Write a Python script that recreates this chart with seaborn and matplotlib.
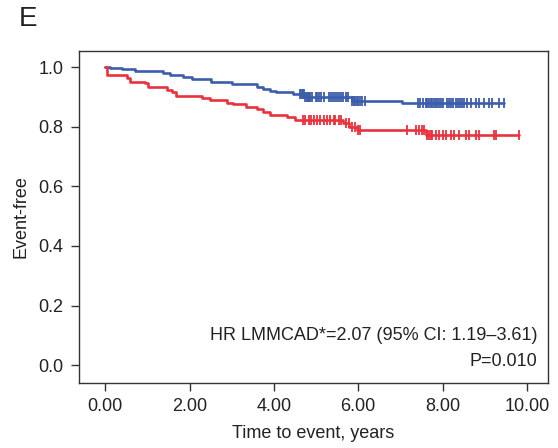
import numpy as np
import pandas as pd
import matplotlib
matplotlib.use("Agg")
import matplotlib.pyplot as plt
import seaborn as sns

# ---- data ----
blue_times = [0.0, 0.12, 0.40, 0.71, 1.38, 1.54, 1.85, 2.05, 2.52, 3.00, 3.59, 3.74, 3.90, 4.06, 4.45, 4.75, 5.85, 7.05]
blue_surv = [1.0, 0.998, 0.993, 0.987, 0.979, 0.973, 0.967, 0.961, 0.951, 0.943, 0.934, 0.928, 0.921, 0.917, 0.909, 0.900, 0.887, 0.878]
blue_end = 9.45
blue_censor = [4.62, 4.65, 4.68, 4.70, 4.72, 4.75, 4.78, 4.80, 4.83, 4.86, 4.90, 5.00, 5.03, 5.08,
               5.12, 5.20, 5.30, 5.35, 5.40, 5.45, 5.50, 5.55, 5.60, 5.65, 5.70, 5.75, 5.86, 5.90,
               5.93, 5.96, 6.00, 6.05, 6.10, 6.15, 7.41, 7.46, 7.53, 7.60, 7.64, 7.68, 7.72, 7.76,
               7.80, 7.84, 7.88, 7.92, 7.96, 8.00, 8.11, 8.15, 8.20, 8.25, 8.31, 8.36, 8.41, 8.46,
               8.51, 8.59, 8.67, 8.79, 8.87, 8.98, 9.10, 9.18, 9.34, 9.45]

red_times = [0.0, 0.04, 0.51, 0.59, 0.95, 1.02, 1.46, 1.58, 1.69, 2.29, 2.48, 2.88, 3.03, 3.35, 3.59, 3.74, 3.90, 4.30, 4.50, 5.63, 5.79, 5.98, 7.60]
red_surv = [1.0, 0.973, 0.962, 0.951, 0.945, 0.934, 0.923, 0.915, 0.903, 0.895, 0.889, 0.881, 0.877, 0.867, 0.858, 0.850, 0.839, 0.831, 0.822, 0.811, 0.800, 0.789, 0.772]
red_end = 9.81
red_censor = [4.68, 4.75, 4.83, 4.87, 4.95, 5.03, 5.10, 5.18, 5.26, 5.34, 5.42, 5.46, 5.54, 5.60,
              5.70, 5.78, 5.85, 5.92, 6.00, 6.05, 7.16, 7.36, 7.45, 7.51, 7.57, 7.64, 7.68, 7.72,
              7.75, 7.84, 7.92, 8.00, 8.08, 8.20, 8.27, 8.39, 8.55, 8.63, 8.79, 8.87, 9.22, 9.27, 9.81]

x_ticks = [0, 2, 4, 6, 8, 10]
x_ticklabels = ["0.00", "2.00", "4.00", "6.00", "8.00", "10.00"]
y_ticks = [0.0, 0.2, 0.4, 0.6, 0.8, 1.0]
y_ticklabels = ["0.0", "0.2", "0.4", "0.6", "0.8", "1.0"]

BLUE = "#3C5DAA"
RED = "#E8323C"
TXT = "#222222"
FS = 13

sns.set_style("ticks")
plt.rcParams["font.family"] = ["Liberation Sans", "DejaVu Sans"]

fig = plt.figure(figsize=(5.58, 4.48), dpi=100)
ax = fig.add_axes([79 / 558, 65 / 448, 469 / 558, 332 / 448])


def curve_df(times, surv, end):
    t = list(times) + [end]
    s = list(surv) + [surv[-1]]
    return pd.DataFrame({"t": t, "s": s})


def censor_df(times, surv, ctimes):
    idx = np.searchsorted(np.array(times), np.array(ctimes), side="right") - 1
    return pd.DataFrame({"t": ctimes, "s": np.array(surv)[idx]})


for times, surv, end, cens, col in [
    (blue_times, blue_surv, blue_end, blue_censor, BLUE),
    (red_times, red_surv, red_end, red_censor, RED),
]:
    sns.lineplot(data=curve_df(times, surv, end), x="t", y="s", ax=ax, color=col,
                 estimator=None, drawstyle="steps-post", linewidth=1.9)
    sns.scatterplot(data=censor_df(times, surv, cens), x="t", y="s", ax=ax, color=col,
                    marker="|", s=55, linewidth=1.3)

ax.set_xlim(-0.62, 10.5)
ax.set_ylim(-0.06, 1.054)
ax.set_xticks(x_ticks)
ax.set_xticklabels(x_ticklabels)
ax.set_yticks(y_ticks)
ax.set_yticklabels(y_ticklabels)
ax.tick_params(axis="both", direction="out", length=6, width=1, color="#333333",
               labelsize=FS, labelcolor=TXT, pad=5)
for sp in ax.spines.values():
    sp.set_visible(True)
    sp.set_color("#333333")
    sp.set_linewidth(1.0)
ax.set_xlabel("Time to event, years", fontsize=FS, color=TXT)
ax.set_ylabel("Event-free", fontsize=FS, color=TXT)
ax.xaxis.set_label_coords(0.5, -0.128)
ax.yaxis.set_label_coords(-0.105, 0.5)

ax.text(0.978, 0.1416, "HR LMMCAD*=2.07 (95% CI: 1.19\u20133.61)", transform=ax.transAxes,
        ha="right", va="center", fontsize=FS, color=TXT)
ax.text(0.978, 0.066, "P=0.010", transform=ax.transAxes,
        ha="right", va="center", fontsize=FS, color=TXT)

fig.text(19 / 558, 1 - 6 / 448, "E", ha="left", va="top", fontsize=20, color=TXT)

fig.savefig("out.png", dpi=100)
